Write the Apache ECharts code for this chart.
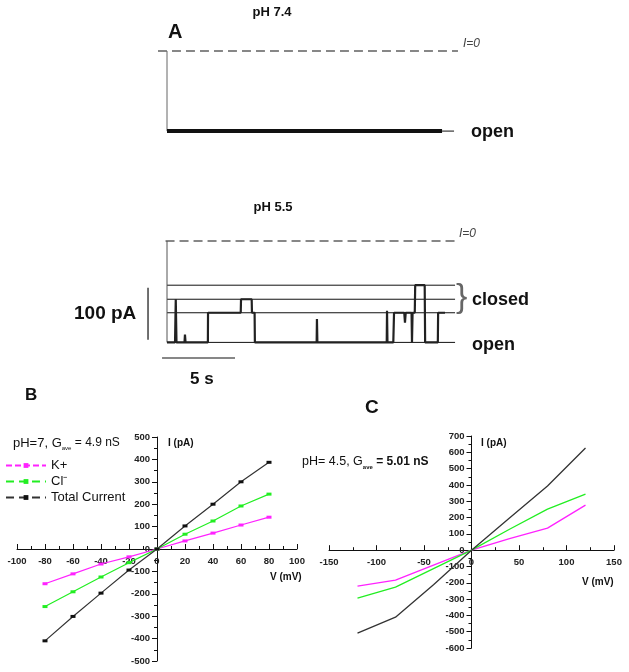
<!DOCTYPE html>
<html>
<head>
<meta charset="utf-8">
<script src="https://cdn.jsdelivr.net/npm/echarts@6/dist/echarts.min.js"></script>
<style>
  html, body { margin: 0; padding: 0; background: #fff; }
  #chart { width: 629px; height: 672px; }
</style>
</head>
<body>
<div id="chart"></div>
<script>
// ---- panel A: single channel traces (time in s, current in pA) ----
const ph74Time = [0, 18.84];
const ph74Current = [-154, -154];
const ph74Open = -154;

const ph55Time = [0, 0.55, 0.6, 0.65, 1.2, 1.23, 1.27, 2.8, 2.81, 5.05, 5.07, 5.8, 5.82, 6.0, 6.02, 10.25, 10.27, 10.3,
  15.05, 15.07, 15.1, 15.5, 15.55, 16.25, 16.3, 16.35, 16.75, 16.78, 16.82, 16.97, 17.0, 17.65, 17.68, 18.55, 18.57, 19.04];
const ph55Current = [-195, -195, -112, -195, -195, -180, -195, -195, -138, -138, -112, -112, -138, -138, -195, -195, -150, -195,
  -195, -134, -195, -195, -138, -138, -157, -138, -138, -195, -138, -138, -85, -85, -195, -195, -138, -138];
const ph55Open = -195;
const ph55Levels = [-85, -112, -138, -195];   // closed sub-levels + open
const levelEnd = 19.73;

// scale bars: 100 pA and 5 s
const scaleBarTime = -1.3;
const scaleBarCurrent = [-90, -190];
const timeBarCurrent = -225;
const timeBarTime = [-0.34, 4.66];

// ---- panel B: I-V at pH 7 ----
const vB = [-80, -60, -40, -20, 0, 20, 40, 60, 80];
const kB = [-155, -111, -67, -35, 0, 36, 71, 107, 142];
const clB = [-257, -191, -125, -61, 0, 66, 125, 192, 245];
const totB = [-410, -301, -197, -94, 0, 103, 200, 300, 387];

// ---- panel C: I-V at pH 4.5 ----
const vC = [-120, -80, -40, 0, 40, 80, 120];
const kC = [-221, -184, -92, 0, 70, 135, 276];
const clC = [-294, -227, -113, 0, 128, 252, 344];
const totC = [-509, -411, -212, 0, 197, 393, 626];

const FONT = '"Liberation Sans", Arial, sans-serif';
const MAGENTA = '#ff22ff';
const GREEN = '#22ee22';
const DARK = '#333333';

function pairs(xs, ys) {
  return xs.map(function (x, i) { return [x, ys[i]]; });
}

function txt(x, y, text, size, weight, align, extra) {
  return {
    type: 'text', x: x, y: y, silent: true,
    style: Object.assign({
      text: text, fill: '#111', fontSize: size, fontWeight: weight || 'normal',
      fontFamily: FONT, align: align || 'left', verticalAlign: 'middle'
    }, extra || {})
  };
}

function plainLine(grid, data, color, width, type) {
  return {
    type: 'line', xAxisIndex: grid, yAxisIndex: grid, data: data,
    symbol: 'none', silent: true, animation: false,
    lineStyle: { color: color, width: width, type: type || 'solid' }
  };
}

const hiddenAxis = { type: 'value', show: false };

// the I-V axes cross at the origin; onZero is not picked up here so the
// axis lines are shifted into the grid with a negative offset
function ivXAxis(grid, min, max, step, offset) {
  return {
    type: 'value', gridIndex: grid, min: min, max: max, interval: step,
    position: 'bottom', offset: offset,
    axisLine: { onZero: false, lineStyle: { color: '#111', width: 1 } },
    axisTick: { inside: true, length: 5, lineStyle: { color: '#111' } },
    minorTick: { show: true, splitNumber: 2, length: 3, lineStyle: { color: '#111' } },
    splitLine: { show: false },
    axisLabel: { fontSize: 9.5, fontWeight: 'bold', color: '#222', fontFamily: FONT, margin: 7 }
  };
}

function ivYAxis(grid, min, max, step, offset) {
  return {
    type: 'value', gridIndex: grid, min: min, max: max, interval: step,
    position: 'left', offset: offset,
    axisLine: { onZero: false, lineStyle: { color: '#111', width: 1 } },
    axisTick: { length: 5, lineStyle: { color: '#111' } },
    minorTick: { show: true, splitNumber: 2, length: 3, lineStyle: { color: '#111' } },
    splitLine: { show: false },
    axisLabel: { fontSize: 9.5, fontWeight: 'bold', color: '#222', fontFamily: FONT, margin: 7 }
  };
}

let myChart = echarts.init(document.getElementById('chart'));

let series = [];

// A top (pH 7.4)
series.push(plainLine(0, [[-0.62, 0], [19.93, 0]], '#111', 1.2, [9, 5]));
series.push(plainLine(0, [[0, 0], [0, ph74Open]], '#666', 1));
series.push(plainLine(0, pairs(ph74Time, ph74Current), '#111', 4));
series.push(plainLine(0, [[ph74Time[ph74Time.length - 1], ph74Open], [19.66, ph74Open]], '#111', 1));

// A bottom (pH 5.5)
series.push(plainLine(1, [[-0.1, 0], [19.93, 0]], '#111', 1.2, [9, 5]));
ph55Levels.forEach(function (lv) {
  series.push(plainLine(1, [[0, lv], [levelEnd, lv]], '#111', 1));
});
series.push(plainLine(1, [[0, 0], [0, ph55Open]], '#555', 1));
series.push(plainLine(1, pairs(ph55Time, ph55Current), '#222', 2.2));
series.push(plainLine(1, [[scaleBarTime, scaleBarCurrent[0]], [scaleBarTime, scaleBarCurrent[1]]], '#111', 1.2));
series.push(plainLine(1, [[timeBarTime[0], timeBarCurrent], [timeBarTime[1], timeBarCurrent]], '#111', 1.2));

// B
function ivSeries(grid, name, xs, ys, color, marker) {
  return {
    type: 'line', name: name, xAxisIndex: grid, yAxisIndex: grid,
    data: pairs(xs, ys), animation: false,
    symbol: marker ? 'rect' : 'none', symbolSize: [5, 3],
    itemStyle: { color: color === DARK ? '#111' : color },
    lineStyle: { color: color, width: marker ? 1.2 : 1.3 }
  };
}
series.push(ivSeries(2, 'K+', vB, kB, MAGENTA, true));
series.push(ivSeries(2, 'Cl\u207B', vB, clB, GREEN, true));
series.push(ivSeries(2, 'Total Current', vB, totB, DARK, true));

// C
series.push(ivSeries(3, 'K+ pH 4.5', vC, kC, MAGENTA, false));
series.push(ivSeries(3, 'Cl pH 4.5', vC, clC, GREEN, false));
series.push(ivSeries(3, 'Total pH 4.5', vC, totC, DARK, false));

let option = {
  backgroundColor: '#fff',
  animation: false,
  grid: [
    { left: 137.8, top: 40.6, width: 321.2, height: 114.4, outerBoundsMode: 'none' },
    { left: 137.8, top: 230.6, width: 321.2, height: 135.2, outerBoundsMode: 'none' },
    { left: 17, top: 437, width: 280, height: 224, outerBoundsMode: 'none' },
    { left: 329, top: 436, width: 285, height: 212, outerBoundsMode: 'none' }
  ],
  xAxis: [
    Object.assign({ gridIndex: 0, min: -2, max: 20 }, hiddenAxis),
    Object.assign({ gridIndex: 1, min: -2, max: 20 }, hiddenAxis),
    ivXAxis(2, -100, 100, 20, -112),
    ivXAxis(3, -150, 150, 50, -97.8)
  ],
  yAxis: [
    Object.assign({ gridIndex: 0, min: -200, max: 20 }, hiddenAxis),
    Object.assign({ gridIndex: 1, min: -240, max: 20 }, hiddenAxis),
    ivYAxis(2, -500, 500, 100, -140),
    ivYAxis(3, -600, 700, 100, -142.5)
  ],
  legend: {
    orient: 'vertical', left: 0, top: 454, itemGap: 3,
    itemWidth: 40, itemHeight: 6,
    textStyle: { fontSize: 13, color: '#111', fontFamily: FONT },
    data: [
      { name: 'K+', lineStyle: { type: [6, 3] } },
      { name: 'Cl\u207B', lineStyle: { type: [8, 5] } },
      { name: 'Total Current', lineStyle: { type: [8, 5] } }
    ]
  },
  graphic: [
    txt(272, 12, 'pH 7.4', 13, 'bold', 'center'),
    txt(168, 32, 'A', 20, 'bold'),
    txt(463, 44, 'I=0', 12, 'normal', 'left', { fontStyle: 'italic', fill: '#444' }),
    txt(471, 132, 'open', 18, 'bold'),
    txt(273, 207, 'pH 5.5', 13, 'bold', 'center'),
    txt(459, 234, 'I=0', 12, 'normal', 'left', { fontStyle: 'italic', fill: '#444' }),
    txt(456, 298, '}', 34, 'normal', 'left', { fill: '#666' }),
    txt(472, 300, 'closed', 18, 'bold'),
    txt(472, 345, 'open', 18, 'bold'),
    txt(74, 314, '100 pA', 19, 'bold'),
    txt(190, 379, '5 s', 17, 'bold'),
    txt(25, 395, 'B', 17, 'bold'),
    txt(365, 408, 'C', 19, 'bold'),
    {
      type: 'text', x: 13, y: 435, silent: true,
      style: {
        text: '{m|pH=7, G}{s|ave}{n| = 4.9 nS}',
        fontFamily: FONT,
        rich: {
          m: { fontSize: 13, fill: '#111', fontFamily: FONT, lineHeight: 16 },
          s: { fontSize: 6, fill: '#111', fontFamily: FONT, verticalAlign: 'bottom', lineHeight: 16 },
          n: { fontSize: 12, fill: '#111', fontFamily: FONT, lineHeight: 16 }
        }
      }
    },
    {
      type: 'text', x: 302, y: 454, silent: true,
      style: {
        text: '{m|pH= 4.5, G}{s|ave}{b| = 5.01 nS}',
        fontFamily: FONT,
        rich: {
          m: { fontSize: 12.5, fill: '#111', fontFamily: FONT, lineHeight: 16 },
          s: { fontSize: 6, fontWeight: 'bold', fill: '#111', fontFamily: FONT, verticalAlign: 'bottom', lineHeight: 16 },
          b: { fontSize: 12, fontWeight: 'bold', fill: '#111', fontFamily: FONT, lineHeight: 16 }
        }
      }
    },
    txt(168, 443, 'I (pA)', 10, 'bold'),
    txt(270, 577, 'V (mV)', 10, 'bold'),
    txt(481, 443, 'I (pA)', 10, 'bold'),
    txt(582, 582, 'V (mV)', 10, 'bold')
  ],
  series: series
};

myChart.setOption(option);

window.addEventListener('resize', function () {
  myChart.resize();
});
</script>
</body>
</html>
